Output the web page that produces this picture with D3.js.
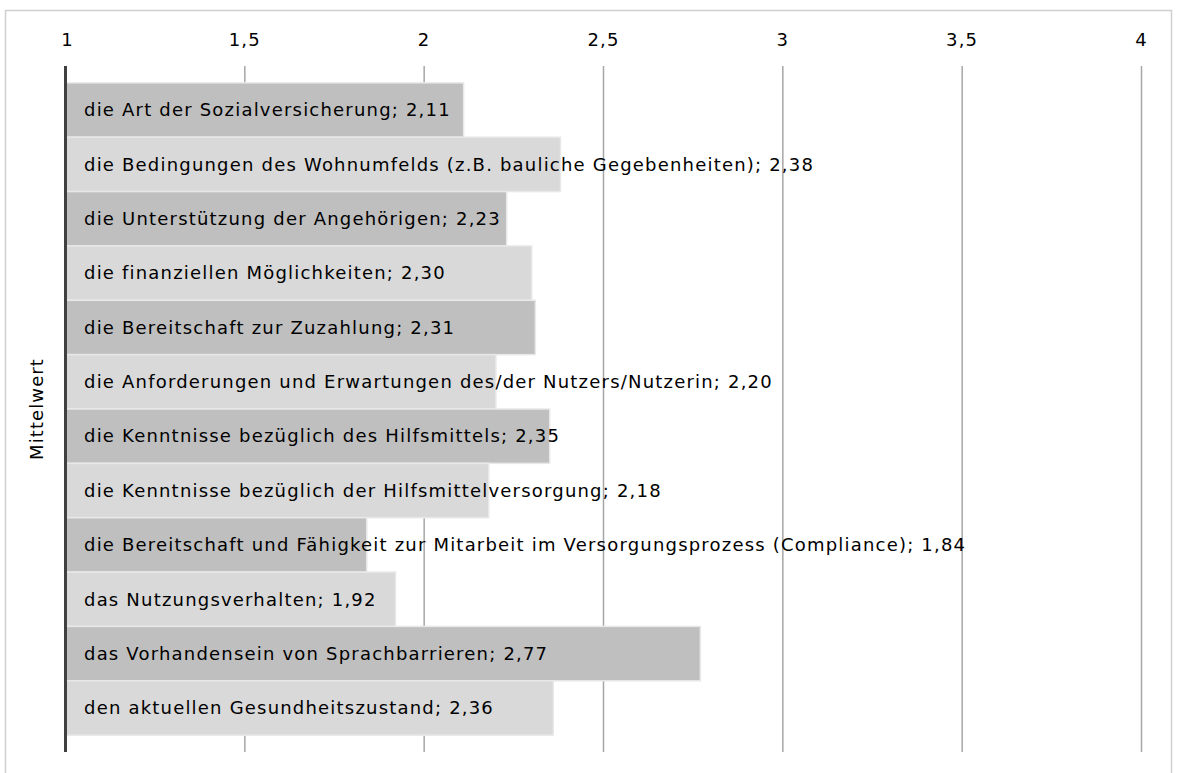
<!DOCTYPE html>
<html>
<head>
<meta charset="utf-8">
<script src="https://cdn.jsdelivr.net/npm/d3@7/dist/d3.min.js"></script>
<style>
  html, body { margin: 0; padding: 0; background: #fff; }
  svg { display: block; }
</style>
</head>
<body>
<div id="chart"></div>
<script>
// categories (top to bottom) and their means
const labels = [
  'die Art der Sozialversicherung',
  'die Bedingungen des Wohnumfelds (z.B. bauliche Gegebenheiten)',
  'die Unterstützung der Angehörigen',
  'die finanziellen Möglichkeiten',
  'die Bereitschaft zur Zuzahlung',
  'die Anforderungen und Erwartungen des/der Nutzers/Nutzerin',
  'die Kenntnisse bezüglich des Hilfsmittels',
  'die Kenntnisse bezüglich der Hilfsmittelversorgung',
  'die Bereitschaft und Fähigkeit zur Mitarbeit im Versorgungsprozess (Compliance)',
  'das Nutzungsverhalten',
  'das Vorhandensein von Sprachbarrieren',
  'den aktuellen Gesundheitszustand'
];
const values = [2.11, 2.38, 2.23, 2.30, 2.31, 2.20, 2.35, 2.18, 1.84, 1.92, 2.77, 2.36];
const ticks = [1, 1.5, 2, 2.5, 3, 3.5, 4];
const axisTitle = 'Mittelwert';

const W = 1178, H = 773;
const FONT = '"DejaVu Sans", Verdana, sans-serif';
const FS = 18, LS = 1.2;
const deFmt = v => String(v).replace('.', ',');
const val2 = v => v.toFixed(2).replace('.', ',');

const svg = d3.select('#chart').append('svg').attr('width', W).attr('height', H);

// outer frame (runs off the bottom like the source)
svg.append('rect').attr('x', 5.5).attr('y', 10.5).attr('width', 1166).attr('height', H + 20)
  .attr('fill', '#fff').attr('stroke', '#d0d0d0').attr('stroke-width', 1.5);

const x = d3.scaleLinear().domain([1, 4]).range([65.5, 1141.5]);
const plotTop = 66, plotBottom = 752;
const y = d3.scaleBand().domain(d3.range(labels.length)).range([plotTop, plotBottom])
  .paddingInner(0).paddingOuter(0.31);

// grid
svg.append('g').selectAll('line').data(ticks.slice(1)).join('line')
  .attr('x1', d => x(d)).attr('x2', d => x(d))
  .attr('y1', plotTop).attr('y2', plotBottom)
  .attr('stroke', '#a6a6a6').attr('stroke-width', 1.5);

// tick labels on top
svg.append('g').selectAll('text').data(ticks).join('text')
  .attr('x', d => x(d) + (d === 1 ? 2 : 0)).attr('y', 40).attr('dy', '0.35em')
  .attr('text-anchor', 'middle')
  .attr('font-family', FONT).attr('font-size', FS).attr('letter-spacing', LS).attr('fill', '#000')
  .text(deFmt);

// bars
const bars = svg.append('g').selectAll('g').data(values).join('g');
bars.append('rect')
  .attr('x', x(1)).attr('y', (d, i) => y(i))
  .attr('width', d => x(d) - x(1)).attr('height', y.bandwidth())
  .attr('fill', (d, i) => i % 2 === 0 ? '#bfbfbf' : '#d9d9d9')
  .attr('stroke', '#e8e8e8').attr('stroke-width', 1.5);

bars.append('text')
  .attr('x', 84).attr('y', (d, i) => y(i) + y.bandwidth() / 2).attr('dy', '0.35em')
  .attr('font-family', FONT).attr('font-size', FS).attr('letter-spacing', LS).attr('fill', '#000')
  .text((d, i) => `${labels[i]}; ${val2(d)}`);

// value axis line
svg.append('line').attr('x1', x(1)).attr('x2', x(1)).attr('y1', plotTop).attr('y2', plotBottom)
  .attr('stroke', '#404040').attr('stroke-width', 3);

// axis title
svg.append('text')
  .attr('transform', `translate(37,${(plotTop + plotBottom) / 2}) rotate(-90)`)
  .attr('text-anchor', 'middle').attr('dy', '0.35em')
  .attr('font-family', FONT).attr('font-size', FS).attr('letter-spacing', 1.1).attr('fill', '#000')
  .text(axisTitle);
</script>
</body>
</html>
